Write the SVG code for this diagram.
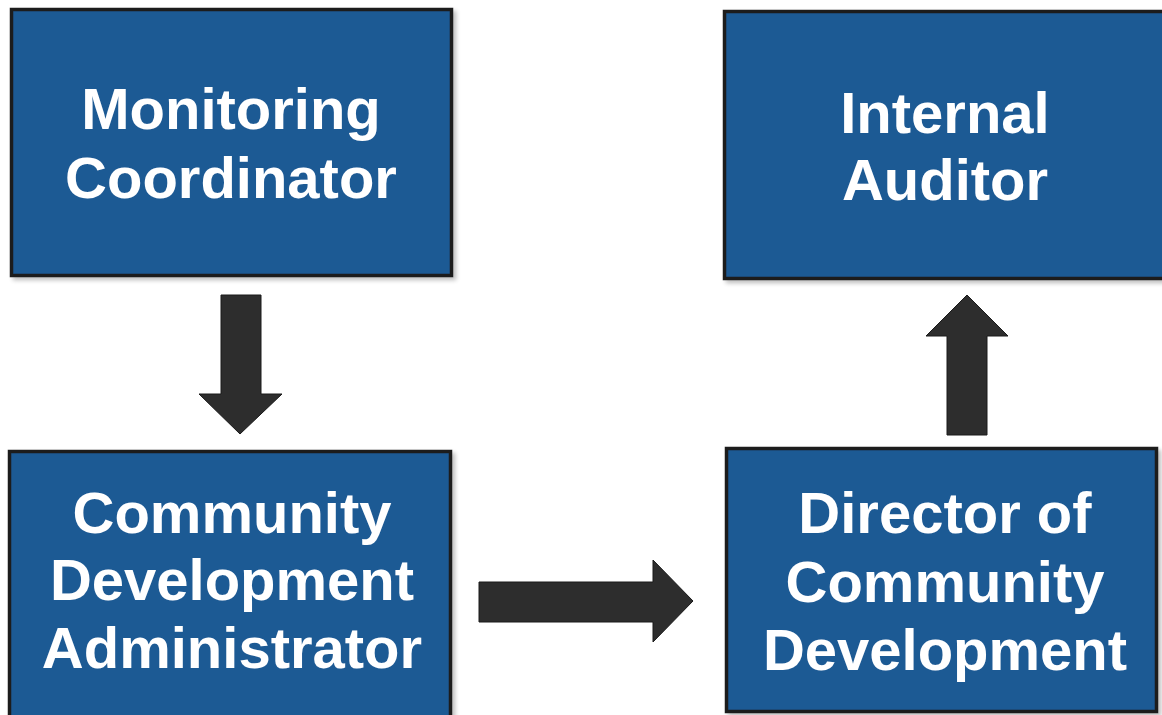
<svg xmlns="http://www.w3.org/2000/svg" width="1162" height="715" viewBox="0 0 1162 715">
  <defs>
    <filter id="soft" x="-5%" y="-5%" width="115%" height="115%">
      <feGaussianBlur in="SourceAlpha" stdDeviation="2"/>
      <feOffset dx="3" dy="3"/>
      <feComponentTransfer><feFuncA type="linear" slope="0.25"/></feComponentTransfer>
      <feMerge><feMergeNode/><feMergeNode in="SourceGraphic"/></feMerge>
    </filter>
  </defs>
  <style>
    .box { fill: #1f5a94; stroke: #1e1e1e; stroke-width: 3.5; }
    .label { fill: #ffffff; font-family: "Liberation Sans", Arial, sans-serif; font-weight: bold; font-size: 58px; text-anchor: middle; }
    .arrow { fill: #2d2d2d; stroke: #1a1a1a; stroke-width: 1; }
  </style>

  <rect width="1162" height="715" fill="#ffffff"/>

  <g id="monitoring-coordinator" filter="url(#soft)">
    <rect class="box" x="11.5" y="9.5" width="440" height="266"/>
    <text class="label" x="231" y="129">Monitoring</text>
    <text class="label" x="231" y="198">Coordinator</text>
  </g>

  <g id="internal-auditor" filter="url(#soft)">
    <rect class="box" x="724.5" y="11.5" width="445" height="267"/>
    <text class="label" x="945" y="133">Internal</text>
    <text class="label" x="945" y="200">Auditor</text>
  </g>

  <g id="community-development-administrator" filter="url(#soft)">
    <rect class="box" x="9.5" y="451.5" width="441" height="275"/>
    <text class="label" x="232" y="533">Community</text>
    <text class="label" x="232" y="600">Development</text>
    <text class="label" x="232" y="668">Administrator</text>
  </g>

  <g id="director-community-development" filter="url(#soft)">
    <rect class="box" x="726.5" y="448.5" width="430" height="263"/>
    <text class="label" x="945" y="533">Director of</text>
    <text class="label" x="945" y="602">Community</text>
    <text class="label" x="945" y="670">Development</text>
  </g>

  <g id="connectors">
    <!-- down: coordinator to administrator -->
    <polygon class="arrow" points="221,295 261,295 261,394 282,394 240,434 199,394 221,394"/>
    <!-- right: administrator to director -->
    <polygon class="arrow" points="479,582 653,582 653,560 693,601 653,642 653,622 479,622"/>
    <!-- up: director to auditor -->
    <polygon class="arrow" points="947,435 987,435 987,336 1008,336 967,295 926,336 947,336"/>
  </g>
</svg>
